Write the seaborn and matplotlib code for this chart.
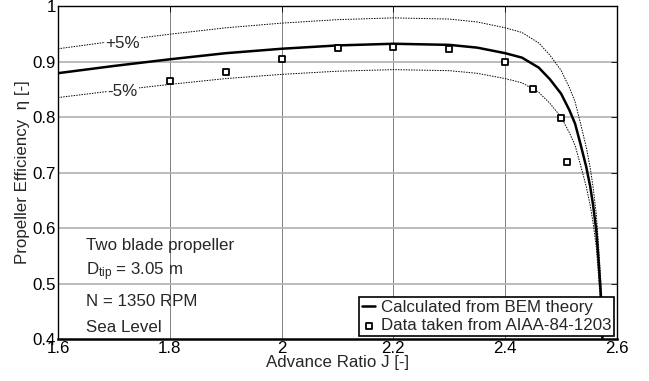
import numpy as np
import pandas as pd
import matplotlib
matplotlib.use('Agg')
import matplotlib.pyplot as plt
import seaborn as sns

# BEM theory curve
bem_j = [1.60, 1.70, 1.80, 1.90, 2.00, 2.10, 2.20, 2.30, 2.35, 2.40, 2.43,
         2.46, 2.48, 2.50, 2.515, 2.525, 2.535, 2.545, 2.552, 2.557, 2.563,
         2.567, 2.571, 2.574]
bem_eta = [0.879, 0.892, 0.904, 0.915, 0.923, 0.929, 0.932, 0.930, 0.925,
           0.915, 0.907, 0.889, 0.868, 0.842, 0.812, 0.788, 0.750, 0.710,
           0.675, 0.643, 0.595, 0.541, 0.481, 0.400]

# measured data, AIAA-84-1203
exp_j = [1.8, 1.9, 2.0, 2.1, 2.2, 2.3, 2.4, 2.45, 2.5, 2.51]
exp_eta = [0.864, 0.881, 0.904, 0.925, 0.926, 0.922, 0.899, 0.851, 0.799, 0.719]

band = 0.05  # +/- 5 % band around theory

x_ticks = [1.6, 1.8, 2.0, 2.2, 2.4, 2.6]
y_ticks = [0.4, 0.5, 0.6, 0.7, 0.8, 0.9, 1.0]
info_lines = ['Two blade propeller', r'D$_{\mathrm{tip}}$ = 3.05 m',
              'N = 1350 RPM', 'Sea Level']

sns.set_style('white')
plt.rcParams['font.family'] = ['Liberation Sans', 'DejaVu Sans']
plt.rcParams['mathtext.fontset'] = 'custom'
plt.rcParams['mathtext.rm'] = 'Liberation Sans'
plt.rcParams['mathtext.it'] = 'Liberation Sans'
fs = 12.2

bem = pd.DataFrame({'J': bem_j, 'eta': bem_eta})
bem['upper'] = bem['eta'] * (1 + band)
bem['lower'] = bem['eta'] * (1 - band)
exp = pd.DataFrame({'J': exp_j, 'eta': exp_eta})

fig = plt.figure(figsize=(6.49, 3.81), dpi=100)
ax = fig.add_axes([0.0894, 0.1102, 0.8613, 0.8740])

for x in x_ticks[1:-1]:
    ax.axvline(x, color='#808080', lw=0.7, zorder=0)
for y in y_ticks[1:-1]:
    ax.axhline(y, color='#b0b0b0', lw=1.2, zorder=0)

sns.lineplot(data=bem, x='J', y='upper', ax=ax, color='black', lw=0.7,
             linestyle=(0, (1.5, 1.2)), estimator=None, sort=False)
sns.lineplot(data=bem, x='J', y='lower', ax=ax, color='black', lw=0.7,
             linestyle=(0, (1.5, 1.2)), estimator=None, sort=False)
sns.lineplot(data=bem, x='J', y='eta', ax=ax, color='black', lw=1.8,
             estimator=None, sort=False, label='Calculated from BEM theory')
sns.scatterplot(data=exp, x='J', y='eta', ax=ax, marker='s', s=16,
                facecolor='white', edgecolor='black', linewidth=1.3,
                zorder=5, label='Data taken from AIAA-84-1203')

ax.text(1.716, 0.933, '+5%', fontsize=fs, ha='center', va='center',
        bbox=dict(facecolor='white', edgecolor='none', pad=0.5))
ax.text(1.716, 0.846, '-5%', fontsize=fs, ha='center', va='center',
        bbox=dict(facecolor='white', edgecolor='none', pad=0.5))

for txt, yy in zip(info_lines, [0.569, 0.522, 0.467, 0.420]):
    ax.text(1.650, yy, txt, fontsize=fs, ha='left', va='center')

ax.set_xlim(1.6, 2.6)
ax.set_ylim(0.4, 1.0)
ax.set_xticks(x_ticks)
ax.set_yticks(y_ticks)
ax.set_xticklabels(['%g' % v for v in x_ticks], fontsize=fs)
ax.set_yticklabels(['%g' % v for v in y_ticks], fontsize=fs)
ax.tick_params(direction='in', length=4, width=0.6, top=True, right=True,
               pad=1.5, colors='black')
ax.set_xlabel('Advance Ratio J [-]', fontsize=fs, labelpad=-1)
ax.set_ylabel('Propeller Efficiency  η [-]', fontsize=fs, labelpad=2)
for side in ['top', 'left', 'right']:
    ax.spines[side].set_linewidth(1.0)
    ax.spines[side].set_color('black')
ax.spines['bottom'].set_linewidth(1.8)
ax.spines['bottom'].set_color('black')

leg = ax.legend(loc='lower right', fontsize=fs, frameon=True, fancybox=False,
                edgecolor='black', framealpha=1, handlelength=0.8,
                handletextpad=0.3, borderpad=0.15, labelspacing=0.2,
                borderaxespad=0.2)
leg.get_frame().set_linewidth(1.2)

fig.savefig('out.png', dpi=100)
